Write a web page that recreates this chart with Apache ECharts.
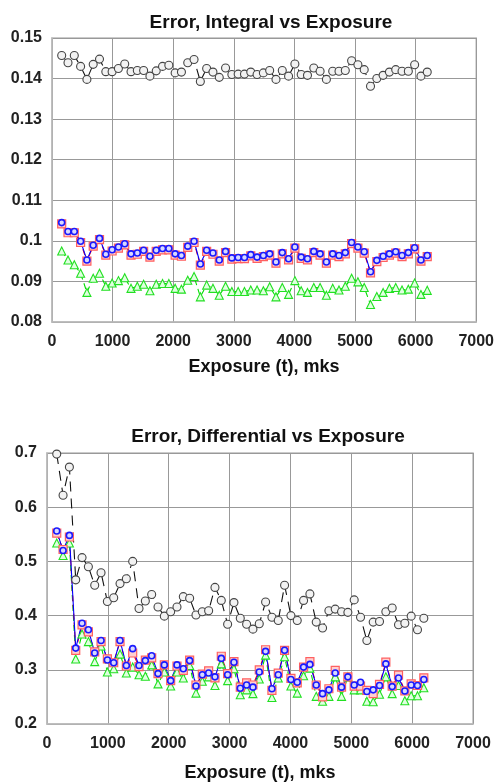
<!DOCTYPE html>
<html>
<head>
<meta charset="utf-8">
<script src="https://cdn.jsdelivr.net/npm/echarts@6/dist/echarts.min.js"></script>
<style>
html,body{margin:0;padding:0;background:#fff;}
#c{width:497px;height:783px;}
</style>
</head>
<body>
<div id="c"></div>
<script>
var exposure = [160,264,368,472,576,680,784,888,992,1096,1200,1304,1408,1512,1616,1720,1824,1928,2032,2136,2240,2344,2448,2552,2656,2760,2864,2968,3072,3176,3280,3384,3488,3592,3696,3800,3904,4008,4112,4216,4320,4424,4528,4632,4736,4840,4944,5048,5152,5256,5360,5464,5568,5672,5776,5880,5984,6088,6192];

var intBlack = [0.1457,0.1439,0.1457,0.1430,0.1398,0.1435,0.1448,0.1417,0.1417,0.1425,0.1436,0.1417,0.1420,0.1420,0.1406,0.1419,0.1430,0.1433,0.1414,0.1416,0.1439,0.1447,0.1393,0.1425,0.1416,0.1403,0.1426,0.1410,0.1411,0.1411,0.1416,0.1410,0.1414,0.1420,0.1398,0.1420,0.1406,0.1436,0.1410,0.1408,0.1426,0.1418,0.1398,0.1418,0.1418,0.1420,0.1444,0.1434,0.1422,0.1381,0.1400,0.1408,0.1416,0.1422,0.1418,0.1418,0.1434,0.1406,0.1416];
var intRed = [0.1042,0.1020,0.1020,0.0996,0.0950,0.0987,0.1003,0.0965,0.0975,0.0982,0.0990,0.0965,0.0967,0.0974,0.0960,0.0974,0.0978,0.0978,0.0965,0.0962,0.0984,0.0996,0.0940,0.0974,0.0967,0.0950,0.0971,0.0955,0.0956,0.0956,0.0963,0.0957,0.0961,0.0965,0.0945,0.0968,0.0953,0.0982,0.0957,0.0953,0.0971,0.0965,0.0945,0.0965,0.0961,0.0968,0.0993,0.0982,0.0970,0.0921,0.0949,0.0959,0.0965,0.0970,0.0961,0.0968,0.0980,0.0950,0.0961];
var intBlue = [0.1045,0.1023,0.1023,0.0999,0.0953,0.0989,0.1006,0.0967,0.0978,0.0985,0.0993,0.0968,0.0970,0.0977,0.0962,0.0977,0.0981,0.0981,0.0968,0.0964,0.0987,0.0999,0.0943,0.0977,0.0970,0.0953,0.0974,0.0958,0.0959,0.0959,0.0966,0.0960,0.0964,0.0968,0.0948,0.0971,0.0956,0.0985,0.0960,0.0956,0.0974,0.0968,0.0948,0.0968,0.0964,0.0971,0.0996,0.0985,0.0973,0.0924,0.0952,0.0962,0.0968,0.0973,0.0964,0.0971,0.0983,0.0953,0.0964];
var intGreen = [0.0975,0.0953,0.0941,0.0920,0.0873,0.0908,0.0920,0.0888,0.0896,0.0902,0.0909,0.0883,0.0888,0.0893,0.0877,0.0893,0.0895,0.0895,0.0883,0.0881,0.0903,0.0912,0.0862,0.0891,0.0883,0.0866,0.0888,0.0875,0.0875,0.0875,0.0879,0.0879,0.0877,0.0887,0.0862,0.0885,0.0868,0.0902,0.0877,0.0873,0.0885,0.0885,0.0866,0.0883,0.0879,0.0888,0.0908,0.0899,0.0885,0.0843,0.0863,0.0873,0.0883,0.0885,0.0879,0.0881,0.0896,0.0868,0.0878];

var difBlack = [0.698,0.622,0.674,0.466,0.507,0.490,0.456,0.479,0.426,0.433,0.459,0.468,0.500,0.413,0.427,0.439,0.416,0.399,0.407,0.416,0.435,0.432,0.401,0.407,0.409,0.452,0.428,0.384,0.424,0.395,0.384,0.375,0.385,0.425,0.397,0.391,0.456,0.400,0.391,0.428,0.440,0.388,0.377,0.409,0.412,0.407,0.406,0.429,0.397,0.354,0.388,0.389,0.407,0.414,0.383,0.386,0.399,0.374,0.395];
var difRed = [0.552,0.522,0.545,0.336,0.383,0.370,0.333,0.352,0.320,0.313,0.352,0.307,0.331,0.306,0.318,0.322,0.293,0.309,0.280,0.307,0.299,0.318,0.272,0.292,0.298,0.285,0.325,0.293,0.315,0.268,0.276,0.272,0.300,0.337,0.262,0.294,0.336,0.284,0.276,0.305,0.315,0.272,0.250,0.265,0.299,0.268,0.287,0.270,0.270,0.262,0.256,0.273,0.314,0.270,0.290,0.261,0.274,0.271,0.285];
var difBlue = [0.556,0.520,0.548,0.340,0.386,0.374,0.331,0.354,0.318,0.313,0.354,0.308,0.339,0.308,0.317,0.326,0.293,0.309,0.280,0.309,0.302,0.317,0.270,0.291,0.294,0.287,0.321,0.291,0.314,0.266,0.272,0.268,0.296,0.334,0.265,0.291,0.336,0.282,0.277,0.305,0.310,0.272,0.256,0.263,0.294,0.268,0.287,0.272,0.277,0.260,0.263,0.271,0.311,0.269,0.285,0.261,0.272,0.271,0.282];
var difGreen = [0.534,0.511,0.534,0.320,0.366,0.352,0.315,0.344,0.296,0.302,0.329,0.294,0.305,0.291,0.288,0.309,0.274,0.296,0.270,0.296,0.285,0.308,0.257,0.279,0.287,0.271,0.311,0.280,0.302,0.254,0.263,0.256,0.283,0.327,0.249,0.285,0.324,0.270,0.257,0.289,0.303,0.251,0.242,0.251,0.287,0.251,0.287,0.263,0.263,0.242,0.241,0.255,0.287,0.256,0.271,0.243,0.252,0.252,0.267];

var titles = ['Error, Integral vs Exposure', 'Error, Differential vs Exposure'];
var xName = 'Exposure (t), mks';

function pairs(ys){ return exposure.map(function(x,i){ return [x, ys[i]]; }); }

var FONT = '"Liberation Sans", Arial, sans-serif';
var styles = {
  black: {line:'#111', dash:[10,7], sym:'circle', size:8, fill:'#f2f2f2', border:'#444', bw:1.1},
  red:   {line:'#ff0000', dash:[6,3], sym:'rect', size:8, fill:'#ffd0d0', border:'#ff6060', bw:1.2},
  green: {line:'#00dd00', dash:[6,4], sym:'triangle', size:8, fill:'#e0ffe0', border:'#22e022', bw:1.1},
  blue:  {line:'#0000ff', dash:'solid', sym:'circle', size:6, fill:'#d8d8ff', border:'#1a1aff', bw:1.6}
};
function mk(name, data, idx, st){
  return {
    type:'line', xAxisIndex:idx, yAxisIndex:idx, data:pairs(data), name:name,
    symbol:st.sym, symbolSize:st.size, showAllSymbol:true, animation:false,
    lineStyle:{color:st.line, width:1.1, type:st.dash},
    itemStyle:{color:st.fill, borderColor:st.border, borderWidth:st.bw}
  };
}

function yAx(idx, min, max, step, dec){
  return {
    type:'value', gridIndex:idx, min:min, max:max, interval:step,
    axisLine:{show:true, lineStyle:{color:'#bbb', width:1.5}},
    axisTick:{show:false},
    splitLine:{show:true, lineStyle:{color:'#999', width:1}},
    axisLabel:{fontFamily:FONT, fontWeight:'bold', fontSize:16, color:'#222', margin:10,
      formatter:function(v){ return String(parseFloat(v.toFixed(dec))); }}
  };
}
function xAx(idx, gap){
  return {
    type:'value', gridIndex:idx, min:0, max:7000, interval:1000,
    name:xName, nameLocation:'middle', nameGap:gap,
    nameTextStyle:{fontFamily:FONT, fontWeight:'bold', fontSize:18, color:'#111'},
    axisLine:{show:true, lineStyle:{color:'#bbb', width:1.5}},
    axisTick:{show:false},
    splitLine:{show:true, lineStyle:{color:'#999', width:1}},
    axisLabel:{fontFamily:FONT, fontWeight:'bold', fontSize:16, color:'#222', margin:12,
      formatter:function(v){ return String(v); }}
  };
}

var chart = echarts.init(document.getElementById('c'), null, {renderer:'canvas'});
chart.setOption({
  backgroundColor:'#fff',
  animation:false,
  title:[
    {text:titles[0], left:266, top:8, textAlign:'center', textStyle:{fontFamily:FONT, fontWeight:'bold', fontSize:19, color:'#111'}},
    {text:titles[1], left:263, top:422, textAlign:'center', textStyle:{fontFamily:FONT, fontWeight:'bold', fontSize:19, color:'#111'}}
  ],
  grid:[
    {left:52, top:38, width:427, height:284, show:true, borderColor:'#bbb', borderWidth:1.5},
    {left:47, top:453, width:426, height:273, show:true, borderColor:'#bbb', borderWidth:1.5}
  ],
  xAxis:[xAx(0, 36), xAx(1, 40)],
  yAxis:[yAx(0,0.08,0.15,0.01,2), yAx(1,0.2,0.7,0.1,1)],
  series:[
    mk('intBlack', intBlack, 0, styles.black),
    mk('intGreen', intGreen, 0, styles.green),
    mk('intRed', intRed, 0, styles.red),
    mk('intBlue', intBlue, 0, styles.blue),
    mk('difBlack', difBlack, 1, styles.black),
    mk('difGreen', difGreen, 1, styles.green),
    mk('difRed', difRed, 1, styles.red),
    mk('difBlue', difBlue, 1, styles.blue)
  ]
});
</script>
</body>
</html>
